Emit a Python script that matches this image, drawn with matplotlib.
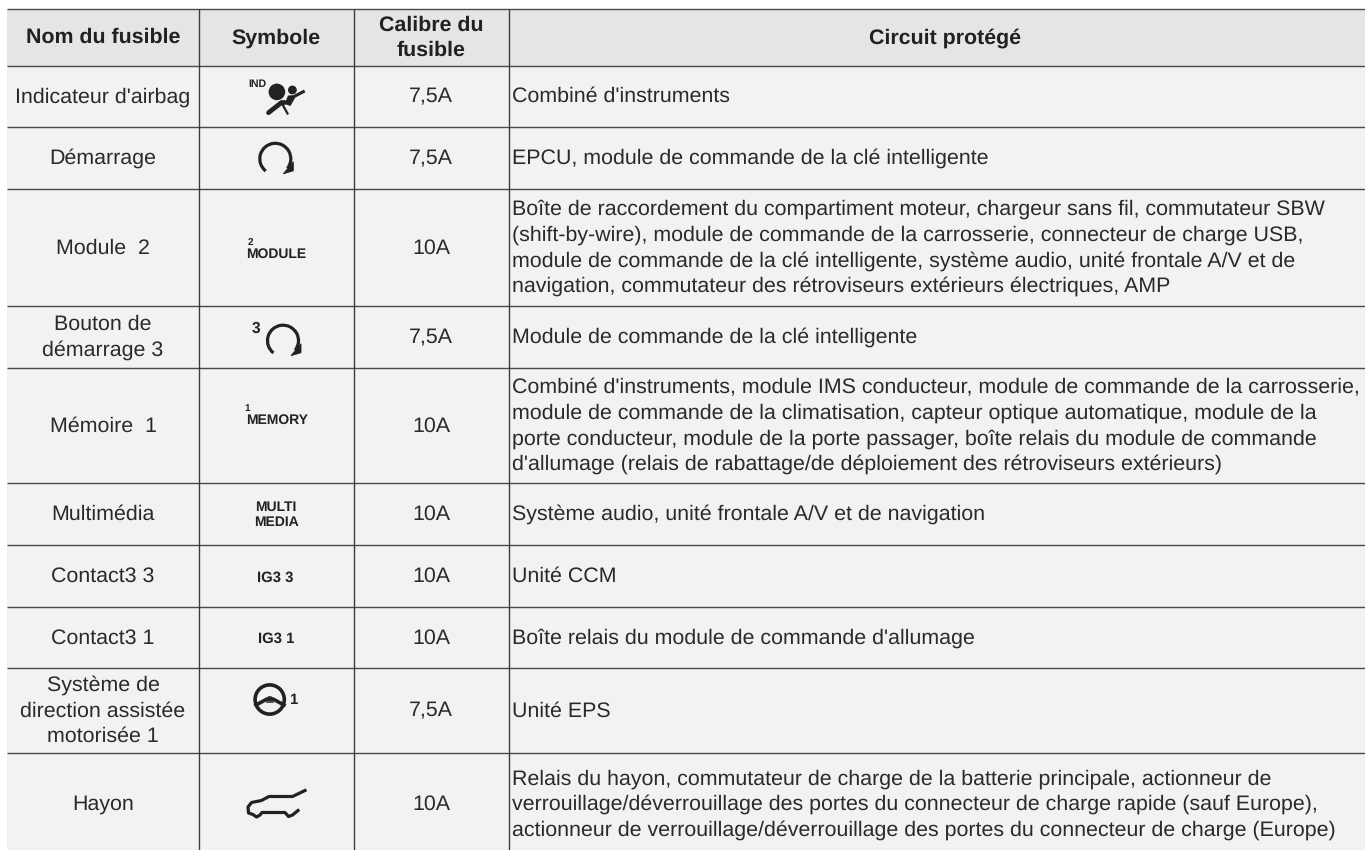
import matplotlib
matplotlib.use("Agg")
import matplotlib.pyplot as plt
from matplotlib.patches import Arc, Circle, Polygon, Rectangle

plt.rcParams["font.family"] = ["Liberation Sans", "DejaVu Sans"]
plt.rcParams["text.hinting"] = "no_hinting"

headers = ["Nom du fusible", "Symbole", "Calibre du\nfusible", "Circuit protégé"]
fuse_names = [
    "Indicateur d'airbag",
    "Démarrage",
    "Module  2",
    "Bouton de\ndémarrage 3",
    "Mémoire  1",
    "Multimédia",
    "Contact3 3",
    "Contact3 1",
    "Système de\ndirection assistée\nmotorisée 1",
    "Hayon",
]
fuse_ratings = ["7,5A", "7,5A", "10A", "7,5A", "10A", "10A", "10A", "10A", "7,5A", "10A"]
circuits = [
    "Combiné d'instruments",
    "EPCU, module de commande de la clé intelligente",
    "Boîte de raccordement du compartiment moteur, chargeur sans fil, commutateur SBW\n"
    "(shift-by-wire), module de commande de la carrosserie, connecteur de charge USB,\n"
    "module de commande de la clé intelligente, système audio, unité frontale A/V et de\n"
    "navigation, commutateur des rétroviseurs extérieurs électriques, AMP",
    "Module de commande de la clé intelligente",
    "Combiné d'instruments, module IMS conducteur, module de commande de la carrosserie,\n"
    "module de commande de la climatisation, capteur optique automatique, module de la\n"
    "porte conducteur, module de la porte passager, boîte relais du module de commande\n"
    "d'allumage (relais de rabattage/de déploiement des rétroviseurs extérieurs)",
    "Système audio, unité frontale A/V et de navigation",
    "Unité CCM",
    "Boîte relais du module de commande d'allumage",
    "Unité EPS",
    "Relais du hayon, commutateur de charge de la batterie principale, actionneur de\n"
    "verrouillage/déverrouillage des portes du connecteur de charge rapide (sauf Europe),\n"
    "actionneur de verrouillage/déverrouillage des portes du connecteur de charge (Europe)",
]

# table layout in image pixels
col_edges = [7, 198.7, 353.7, 508.7, 1365]
row_edges = [9, 65.5, 127, 189, 306, 368, 483, 545, 607, 668, 753, 855]
col_centers = [103, 276, 431, 945]
text_left = 512.5
line_step = 25.7
base_shift = 6
font_size = 15.4

text_color = "#2b292a"
head_bg = "#e4e5e7"
cell_bg = "#f1f2f4"
line_color = "#3d3b3d"
icon_color = "#232122"

fig = plt.figure(figsize=(13.65, 8.5), dpi=100)
ax = fig.add_axes([0, 0, 1, 1])
ax.set_xlim(0, 1365)
ax.set_ylim(850, 0)
ax.axis("off")


def put_lines(x, center, text, ha="center", weight="normal", color=text_color):
    lines = text.split("\n")
    for i, line in enumerate(lines):
        y = center + base_shift + (i - (len(lines) - 1) / 2) * line_step
        ax.text(x, y, line, ha=ha, va="baseline", fontsize=font_size,
                fontweight=weight, color=color)


def small(x, y, text, size=10.0, ha="center"):
    ax.text(x, y, text, ha=ha, va="baseline", fontsize=size, fontweight="bold", color=icon_color)


def start_icon(cx, cy, r=15.5):
    ax.add_patch(Arc((cx, cy), 2 * r, 2 * r, theta1=128, theta2=398, lw=2.3,
                     color=icon_color, capstyle="butt"))
    ax.add_patch(Polygon([[cx + 8, cy + 15], [cx + 18, cy + 3], [cx + 18, cy + 12]],
                         closed=True, fc=icon_color, ec=icon_color, lw=0.6))


def airbag_icon():
    ax.add_patch(Circle((276.9, 91.9), 8.3, fc=icon_color, ec="none"))
    ax.add_patch(Circle((292.4, 90), 4.4, fc=icon_color, ec="none"))
    ax.plot([268.5, 281.5, 284.5], [112.7, 102.5, 102.5], color=icon_color, lw=3.4, solid_capstyle="round")
    ax.add_patch(Polygon([[284.5, 104], [288, 95.5], [296.7, 95], [290.5, 106]],
                         closed=True, fc=icon_color, ec="none"))
    ax.plot([281.7, 287.5], [103, 113.5], color=icon_color, lw=1.6)
    ax.plot([296, 303.3], [95.5, 91.7], color=icon_color, lw=2.2)


def wheel_icon():
    ax.add_patch(Circle((269.7, 699.5), 14.6, fc="none", ec=icon_color, lw=2.6))
    ax.plot([256, 267, 273, 284], [705, 699, 699, 705], color=icon_color, lw=2.6)
    ax.add_patch(Polygon([[266, 703], [268, 696], [271.5, 696], [274, 703]],
                         closed=True, fc="#55534f", ec="none"))


def car_icon():
    body_x = [305, 292.5, 269, 261.5, 251.5, 248, 248.5, 253, 256.5, 260, 262,
              285, 288.5, 292.5, 298]
    body_y = [790.5, 796.5, 796.5, 800.5, 802.5, 807, 813, 814.5, 817, 815, 812.5,
              812.5, 816.5, 815, 810.5]
    ax.plot(body_x, body_y, color=icon_color, lw=2.3, solid_joinstyle="round")


# cell backgrounds
for c in range(4):
    for r in range(len(row_edges) - 1):
        ax.add_patch(Rectangle((col_edges[c], row_edges[r]), col_edges[c + 1] - col_edges[c],
                               row_edges[r + 1] - row_edges[r],
                               fc=head_bg if r == 0 else cell_bg, ec="none"))

# rules, the bottom one is cut off by the page
for y in row_edges[:-1]:
    ax.plot([col_edges[0], col_edges[-1]], [y, y], color="#4a484a", lw=1.0, solid_capstyle="butt")
for x in col_edges[1:-1]:
    ax.plot([x, x], [row_edges[0], 850], color=line_color, lw=1.0, solid_capstyle="butt")

head_center = (row_edges[0] + row_edges[1]) / 2
for x, label in zip(col_centers, headers):
    put_lines(x, head_center, label, weight="bold", color="#222021")

for i in range(len(fuse_names)):
    center = (row_edges[i + 1] + row_edges[i + 2]) / 2
    put_lines(col_centers[0], center, fuse_names[i])
    put_lines(col_centers[2], center, fuse_ratings[i])
    put_lines(text_left, center, circuits[i], ha="left")

# symbol column
small(257.5, 86.7, "IND", size=7.6)
airbag_icon()
start_icon(275.3, 158.8)
small(250, 244.5, "2", size=7.2)
small(246.5, 258.3, "MODULE", ha="left")
small(256.3, 332.7, "3", size=11.2)
start_icon(283, 340.7)
small(247.3, 410.5, "1", size=7.2)
small(246.5, 424.3, "MEMORY", ha="left")
small(276, 511.3, "MULTI")
small(276, 526, "MEDIA")
small(275.7, 581.7, "IG3 3", size=10.7)
small(276, 643, "IG3 1", size=10.7)
wheel_icon()
small(293.7, 704, "1", size=10.8)
car_icon()

fig.savefig("out.png", dpi=100)
